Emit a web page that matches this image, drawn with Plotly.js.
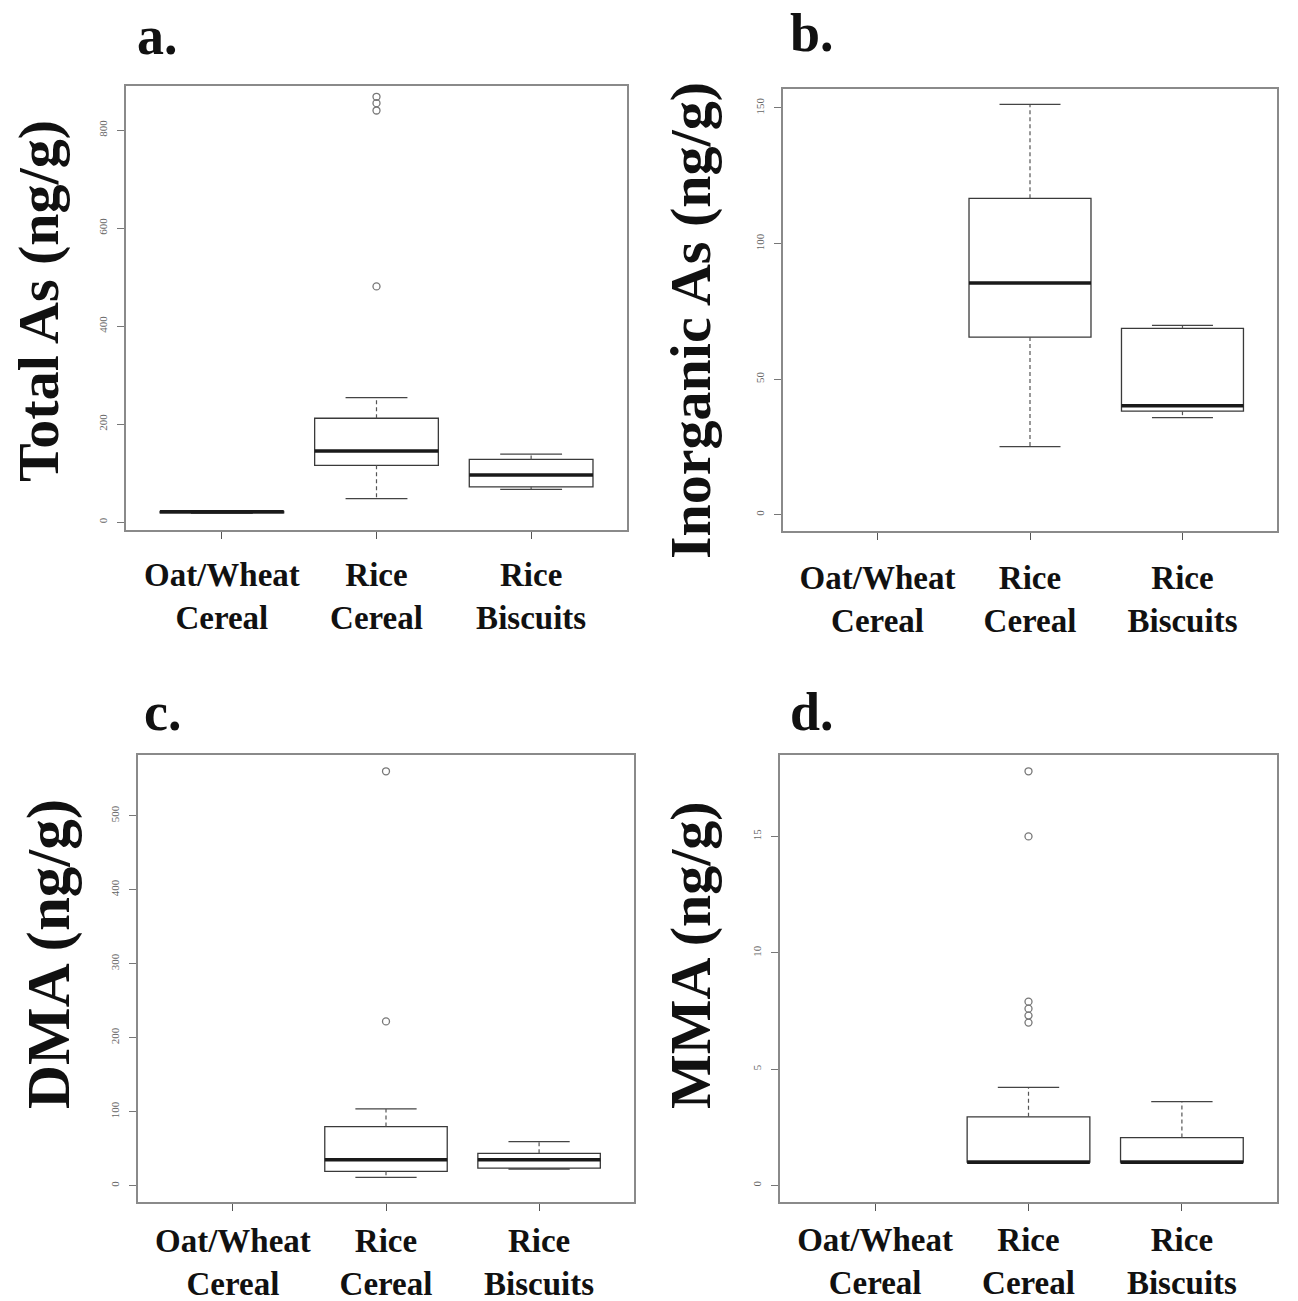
<!DOCTYPE html>
<html>
<head>
<meta charset="utf-8">
<script src="https://cdn.plot.ly/plotly-3.0.1.min.js"></script>
<style>html,body{margin:0;padding:0;background:#fff;}#chart{width:1298px;height:1301px;}</style>
</head>
<body>
<div id="chart"></div>
<script>
// ---- Data ----
const categories = ['Oat/Wheat<br>Cereal', 'Rice<br>Cereal', 'Rice<br>Biscuits'];
const panelLetters = ['a.', 'b.', 'c.', 'd.'];
const yTitles = ['Total As (ng/g)', 'Inorganic As (ng/g)', 'DMA (ng/g)', 'MMA (ng/g)'];

// a. Total As
const totalQ1 = [19, 116, 72];
const totalMedian = [21, 145, 96];
const totalQ3 = [22, 212, 128];
const totalLower = [18, 48, 67];
const totalUpper = [23, 254, 139];
const totalOutCat = [1, 1, 1, 1];
const totalOutVal = [481, 840, 855, 868];
const totalTicks = [0, 200, 400, 600, 800];

// b. Inorganic As (no Oat/Wheat data)
const inorgQ1 = [null, 65.5, 38.2];
const inorgMedian = [null, 85.5, 40.2];
const inorgQ3 = [null, 116.7, 68.7];
const inorgLower = [null, 25.1, 35.8];
const inorgUpper = [null, 151.3, 69.8];
const inorgOutCat = [];
const inorgOutVal = [];
const inorgTicks = [0, 50, 100, 150];

// c. DMA
const dmaQ1 = [null, 19.4, 23.9];
const dmaMedian = [null, 35.2, 35.2];
const dmaQ3 = [null, 79.9, 43.8];
const dmaLower = [null, 11.3, 22.6];
const dmaUpper = [null, 103.8, 59.6];
const dmaOutCat = [1, 1];
const dmaOutVal = [222, 560];
const dmaTicks = [0, 100, 200, 300, 400, 500];

// d. MMA
const mmaQ1 = [null, 1.0, 1.0];
const mmaMedian = [null, 1.0, 1.0];
const mmaQ3 = [null, 2.95, 2.06];
const mmaLower = [null, 1.0, 1.0];
const mmaUpper = [null, 4.22, 3.6];
const mmaOutCat = [1, 1, 1, 1, 1, 1];
const mmaOutVal = [7.0, 7.3, 7.6, 7.9, 15.0, 17.8];
const mmaTicks = [0, 5, 10, 15];

// ---- Build figure ----
const panels = [
  {q1: totalQ1, med: totalMedian, q3: totalQ3, lo: totalLower, hi: totalUpper, oc: totalOutCat, ov: totalOutVal, ticks: totalTicks, range: [-16, 890]},
  {q1: inorgQ1, med: inorgMedian, q3: inorgQ3, lo: inorgLower, hi: inorgUpper, oc: inorgOutCat, ov: inorgOutVal, ticks: inorgTicks, range: [-6, 157]},
  {q1: dmaQ1, med: dmaMedian, q3: dmaQ3, lo: dmaLower, hi: dmaUpper, oc: dmaOutCat, ov: dmaOutVal, ticks: dmaTicks, range: [-22, 582]},
  {q1: mmaQ1, med: mmaMedian, q3: mmaQ3, lo: mmaLower, hi: mmaUpper, oc: mmaOutCat, ov: mmaOutVal, ticks: mmaTicks, range: [-0.71, 18.5]}
];

const W = 1298, H = 1301;
// style / layout settings
const frames = [
  [126, 627, 86, 530],
  [783, 1277, 89, 531],
  [138, 634, 755, 1202],
  [780, 1277, 755, 1202]
];
const xLabelStandoff = [7, 9, 1, 0];
const letterPos = [[135, 36], [788, 33], [142, 712], [788, 712]];
const yTitlePos = [[38, 301], [690, 321], [49, 954], [690, 955]];
const yTitleSize = [58, 58, 61, 58];

const serif = 'Liberation Serif, Times New Roman, serif';
const traces = [];
const layout = {
  width: W, height: H,
  margin: {l: 0, r: 0, t: 0, b: 0},
  paper_bgcolor: '#fff', plot_bgcolor: '#fff',
  showlegend: false,
  annotations: []
};

panels.forEach((p, k) => {
  const n = k + 1;
  const xa = 'x' + (n === 1 ? '' : n), ya = 'y' + (n === 1 ? '' : n);
  const idx = [];
  p.med.forEach((v, i) => { if (v !== null) idx.push(i); });

  // boxes (whiskers drawn separately, dashed like R)
  traces.push({
    type: 'box', xaxis: xa, yaxis: ya,
    x: idx,
    q1: idx.map(i => p.q1[i]),
    median: idx.map(i => p.med[i]),
    q3: idx.map(i => p.q3[i]),
    lowerfence: idx.map(i => p.q1[i]),
    upperfence: idx.map(i => p.q3[i]),
    width: 0.8, whiskerwidth: 0,
    line: {color: '#3a3a3a', width: 1.3},
    fillcolor: 'rgba(255,255,255,0)',
    boxpoints: false, hoverinfo: 'skip'
  });

  // whisker stems (dashed)
  const sx = [], sy = [];
  idx.forEach(i => {
    sx.push(i, i, null, i, i, null);
    sy.push(p.q3[i], p.hi[i], null, p.q1[i], p.lo[i], null);
  });
  traces.push({type: 'scatter', mode: 'lines', xaxis: xa, yaxis: ya, x: sx, y: sy,
    line: {color: '#555', width: 1.2, dash: '4px,3px'}, hoverinfo: 'skip', connectgaps: false});

  // whisker caps
  const cx = [], cy = [];
  idx.forEach(i => {
    cx.push(i - 0.2, i + 0.2, null, i - 0.2, i + 0.2, null);
    cy.push(p.hi[i], p.hi[i], null, p.lo[i], p.lo[i], null);
  });
  traces.push({type: 'scatter', mode: 'lines', xaxis: xa, yaxis: ya, x: cx, y: cy,
    line: {color: '#444', width: 1.3}, hoverinfo: 'skip', connectgaps: false});

  // medians (thick)
  const mx = [], my = [];
  idx.forEach(i => {
    mx.push(i - 0.4, i + 0.4, null);
    my.push(p.med[i], p.med[i], null);
  });
  traces.push({type: 'scatter', mode: 'lines', xaxis: xa, yaxis: ya, x: mx, y: my,
    line: {color: '#1a1a1a', width: 3.5}, hoverinfo: 'skip', connectgaps: false});

  // outliers
  if (p.ov.length) {
    traces.push({type: 'scatter', mode: 'markers', xaxis: xa, yaxis: ya, x: p.oc, y: p.ov,
      marker: {symbol: 'circle-open', size: 7, color: '#777', line: {width: 1.3}}, hoverinfo: 'skip'});
  }

  const f = frames[k];
  const xKey = 'xaxis' + (n === 1 ? '' : n), yKey = 'yaxis' + (n === 1 ? '' : n);
  layout[xKey] = {
    domain: [f[0] / W, f[1] / W],
    anchor: ya,
    range: [-0.62, 2.62],
    tickmode: 'array', tickvals: [0, 1, 2], ticktext: categories,
    ticks: 'outside', ticklen: 7, tickcolor: '#555', tickwidth: 1,
    showline: true, mirror: true, linecolor: '#8a8a8a', linewidth: 2,
    showgrid: false, zeroline: false,
    tickfont: {family: serif, size: 33, color: '#111', weight: 'bold'},
    ticklabelstandoff: xLabelStandoff[k],
    fixedrange: true
  };
  layout[yKey] = {
    domain: [1 - f[3] / H, 1 - f[2] / H],
    anchor: xa,
    range: p.range,
    tickmode: 'array', tickvals: p.ticks,
    ticks: 'outside', ticklen: 7, tickcolor: '#777', tickwidth: 1,
    tickangle: -90,
    showline: true, mirror: true, linecolor: '#8a8a8a', linewidth: 2,
    showgrid: false, zeroline: false,
    tickfont: {family: serif, size: 11, color: '#666'},
    ticklabelstandoff: 6,
    fixedrange: true
  };

  layout.annotations.push({
    text: panelLetters[k], xref: 'paper', yref: 'paper',
    x: letterPos[k][0] / W, y: 1 - letterPos[k][1] / H,
    xanchor: 'left', yanchor: 'middle', showarrow: false,
    font: {family: serif, size: 54, color: '#111', weight: 'bold'}
  });
  layout.annotations.push({
    text: yTitles[k], xref: 'paper', yref: 'paper',
    x: yTitlePos[k][0] / W, y: 1 - yTitlePos[k][1] / H,
    xanchor: 'center', yanchor: 'middle', textangle: -90, showarrow: false,
    font: {family: serif, size: yTitleSize[k], color: '#111', weight: 'bold'}
  });
});

Plotly.newPlot('chart', traces, layout, {displayModeBar: false, staticPlot: true});
</script>
</body>
</html>
